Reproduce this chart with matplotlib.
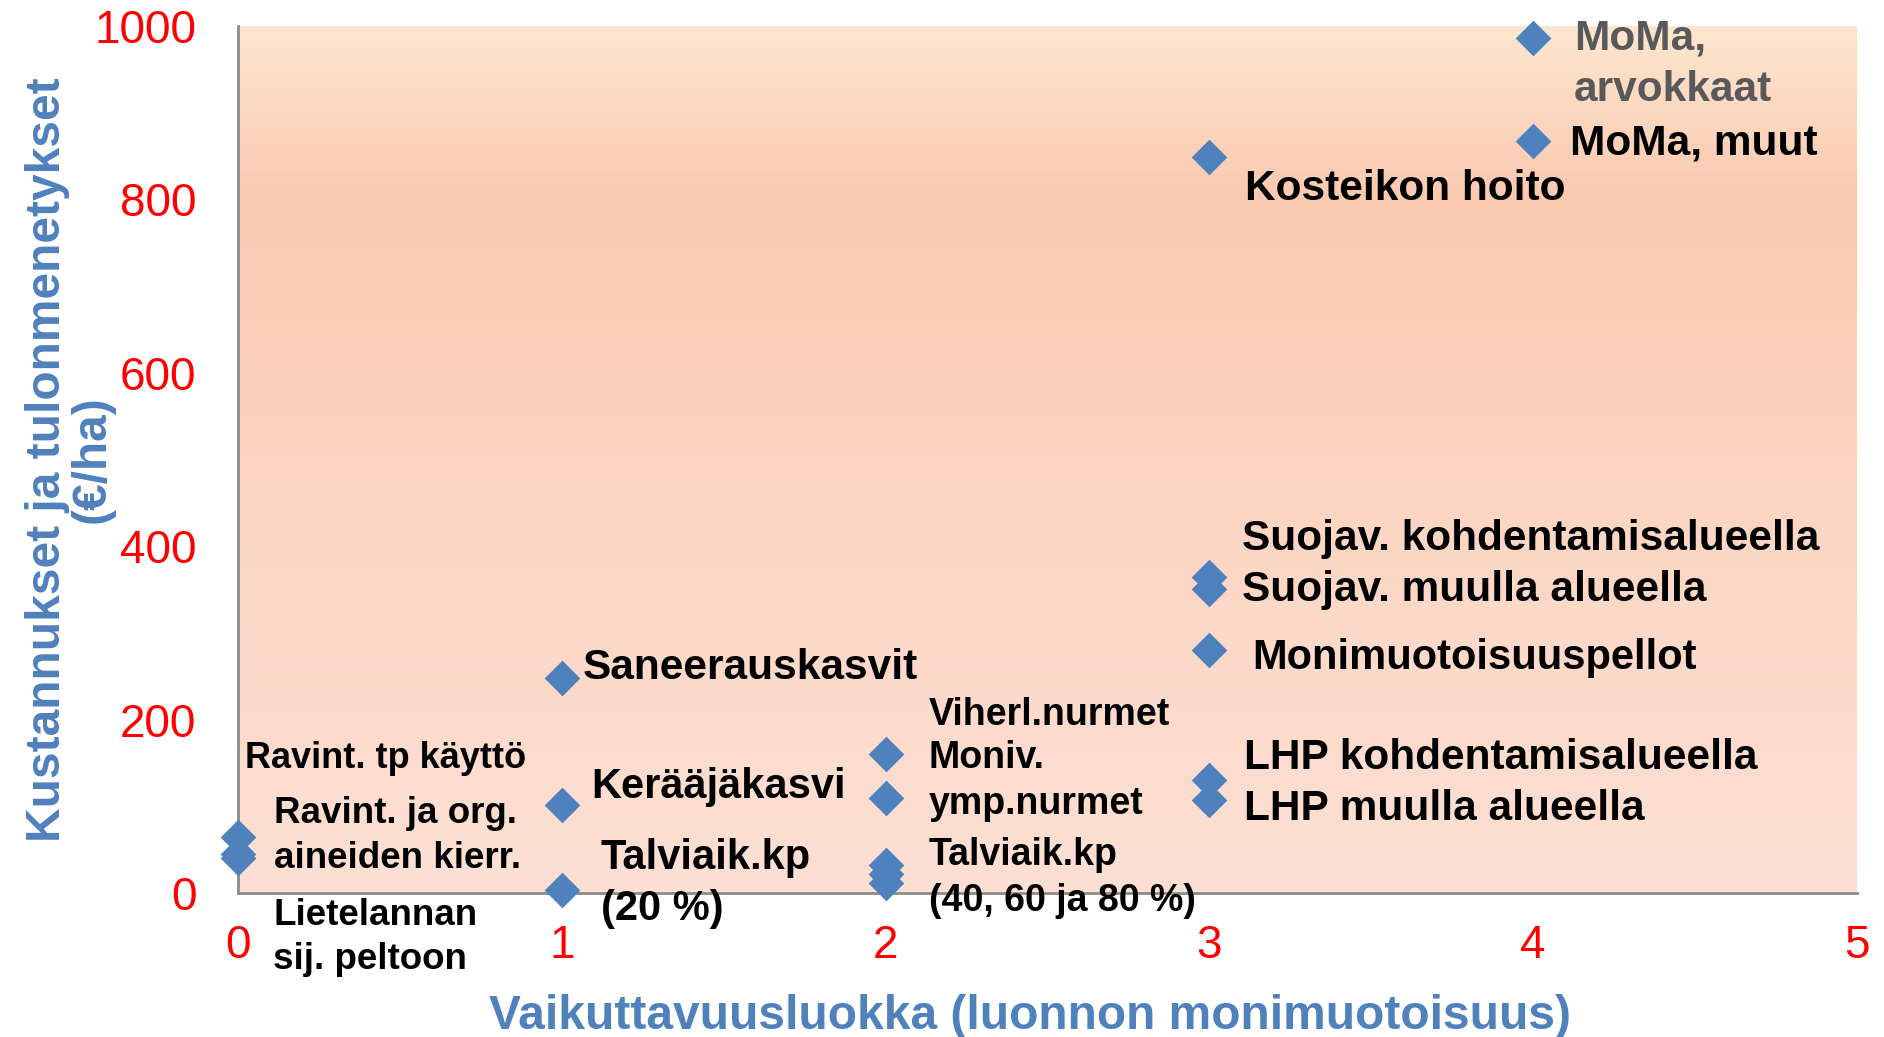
#!/usr/bin/env python3
"""Kustannukset vs. vaikuttavuusluokka -- scatter with labelled measures."""
import numpy as np
import matplotlib
matplotlib.use('Agg')
import matplotlib.pyplot as plt
from matplotlib.colors import LinearSegmentedColormap

# data
impact_class = [0, 0, 0,
                1, 1, 1,
                2, 2, 2, 2, 2,
                3, 3, 3, 3, 3, 3,
                4, 4]
cost_eur_ha = [65, 45, 40,
               248, 101, 3,
               160, 110, 32, 22, 11,
               849, 365, 351, 280, 130, 107,
               986, 867]
point_labels = ['Ravint. tp käyttö', 'Ravint. ja org.\naineiden kierr.', 'Lietelannan\nsij. peltoon',
                'Saneerauskasvit', 'Kerääjäkasvi', 'Talviaik.kp\n(20 %)',
                'Viherl.nurmet', 'Moniv.\nymp.nurmet', '', 'Talviaik.kp\n(40, 60 ja 80 %)', '',
                'Kosteikon hoito', 'Suojav. kohdentamisalueella', 'Suojav. muulla alueella',
                'Monimuotoisuuspellot', 'LHP kohdentamisalueella', 'LHP muulla alueella',
                'MoMa,\narvokkaat', 'MoMa, muut']
x_ticks = [0, 1, 2, 3, 4, 5]
y_ticks = [0, 200, 400, 600, 800, 1000]

# label layout: (dx px, dy px, font size)
label_style = [(7, 78, 26), (36, 18, 26.5), (35, -79, 26.5),
               (21, 10, 30.5), (29, 18, 30), (39, 7, 30),
               (43, 39, 27), (43, 17, 27), None, (43, -4, 27), None,
               (36, -32, 30.5), (33, 38, 30.5), (33, -1, 30.5),
               (43, -8, 30), (35, 22, 30.5), (35, -9, 30.5),
               (41, -26, 30.5), (37, -2, 30.5)]

BLUE = '#4F81BD'
plt.rcParams['font.family'] = ['Liberation Sans', 'DejaVu Sans']

fig = plt.figure(figsize=(18.84, 10.37), dpi=100)
ax = fig.add_axes([238 / 1884, 144 / 1037, 1619 / 1884, 867 / 1037])

# background gradient
cmap = LinearSegmentedColormap.from_list('bg', [(0.0, '#FDE0D4'), (0.5, '#FCD4C1'),
                                                (0.8, '#FBC9B0'), (1.0, '#FDE6CF')])
grad = np.linspace(0, 1, 256).reshape(-1, 1)
ax.imshow(grad, aspect='auto', cmap=cmap, origin='lower',
          extent=[0, 5, 0, 1000], zorder=0)

ax.scatter(impact_class, cost_eur_ha, marker='D', s=330, color=BLUE,
           linewidths=0, zorder=3, clip_on=False)

for xv, yv, txt, st in zip(impact_class, cost_eur_ha, point_labels, label_style):
    if not txt or st is None:
        continue
    dx, dy, size = st
    color = '#595959' if txt.startswith('MoMa,\n') else 'black'
    ax.annotate(txt, (xv, yv), xytext=(dx, dy), textcoords='offset pixels',
                ha='left', va='center', fontsize=size, fontweight='bold',
                color=color, linespacing=1.35, zorder=4, annotation_clip=False)

ax.set_xlim(0, 5)
ax.set_ylim(0, 1000)
ax.set_xticks(x_ticks)
ax.set_yticks(y_ticks)
ax.tick_params(length=0, labelsize=33, labelcolor='red')
ax.tick_params(axis='x', pad=22)
ax.tick_params(axis='y', pad=30)

for side in ['top', 'right']:
    ax.spines[side].set_visible(False)
for side in ['left', 'bottom']:
    ax.spines[side].set_color('#8C8C8C')
    ax.spines[side].set_linewidth(2)

ax.set_xlabel('Vaikuttavuusluokka (luonnon monimuotoisuus)', fontsize=34.5,
              fontweight='bold', color=BLUE)
ax.xaxis.set_label_coords(0.489, -0.117)
ax.set_ylabel('Kustannukset ja tulonmenetykset\n(€/ha)', fontsize=34.5,
              fontweight='bold', color=BLUE, linespacing=1.0)
ax.yaxis.set_label_coords(-0.076, 0.5)

fig.savefig('out.png', dpi=100)
